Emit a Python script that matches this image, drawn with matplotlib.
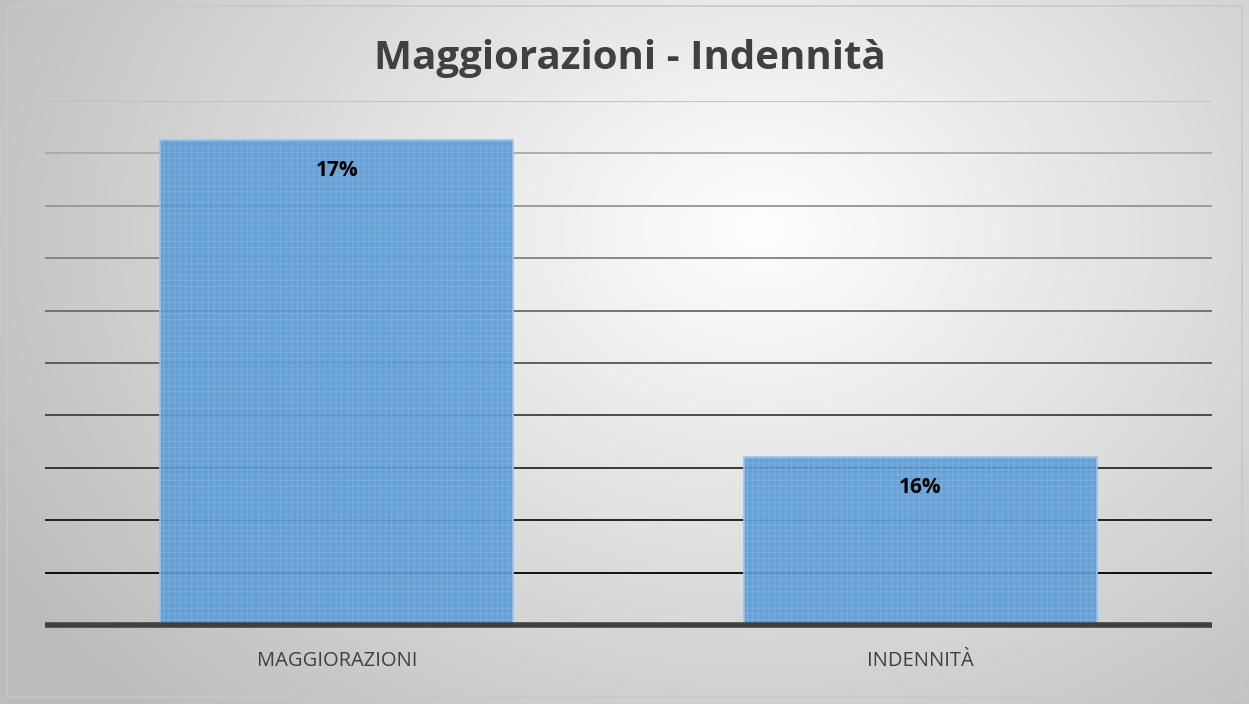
import matplotlib.pyplot as plt
import numpy as np

categories = ['MAGGIORAZIONI', 'INDENNITÀ']
values = [0.1685, 0.1564]
labels = ['17%', '16%']
y_min, y_max, y_step = 0.15, 0.17, 0.002

W, H = 1249, 704
plt.rcParams['hatch.linewidth'] = 0.35
fig = plt.figure(figsize=(W / 100, H / 100), dpi=100)

# radial gradient background, like the Excel chart area
bg = fig.add_axes([0, 0, 1, 1], zorder=0)
yy, xx = np.mgrid[0:H, 0:W]
r = np.sqrt(((xx - 760) / 800.0) ** 2 + ((yy - 230) / 620.0) ** 2)
shade = np.clip(1.0 - 0.24 * r, 0.74, 1.0)
bg.imshow(np.dstack([shade] * 3), extent=[0, W, H, 0], aspect='auto')
bg.add_patch(plt.Rectangle((7, 6), W - 14, H - 13, fill=False,
                           edgecolor='#c8c8c8', linewidth=1.2))
bg.set_xlim(0, W)
bg.set_ylim(H, 0)
bg.axis('off')

ax = fig.add_axes([45 / W, 1 - 625 / H, (1212 - 45) / W, (625 - 101) / H], zorder=1)
ax.patch.set_alpha(0)

# gridlines darken towards the bottom
ticks = np.arange(y_min + y_step, y_max + y_step / 2, y_step)
for i, t in enumerate(ticks[::-1]):
    g = 0.75 * (1 - i / (len(ticks) - 1))
    ax.axhline(t, color=(g, g, g), linewidth=1.3, zorder=1)

x = np.arange(len(categories))
ax.bar(x, [v - y_min for v in values], bottom=y_min, width=0.605,
       color='#5b9bd5', alpha=0.9, edgecolor='#8cb9e3', linewidth=0.0,
       hatch='+++', zorder=2)
ax.bar(x, [v - y_min for v in values], bottom=y_min, width=0.605,
       fill=False, edgecolor='#9cc3e6', linewidth=1.2, zorder=2)

ax.axhline(y_min, color='#404040', linewidth=4, zorder=3, clip_on=False,
           solid_capstyle='butt')

for xi, v, lab in zip(x, values, labels):
    ax.annotate(lab, (xi, v), xytext=(0, -22), textcoords='offset points',
                ha='center', va='center', fontsize=15, fontweight='bold',
                family='Open Sans', color='black', zorder=4)

ax.set_xlim(-0.5, len(categories) - 0.5)
ax.set_ylim(y_min, y_max)
ax.set_xticks(x)
ax.set_xticklabels(categories, fontsize=14.5, family='Open Sans', color='#404040')
ax.tick_params(axis='x', length=0, pad=19)
ax.set_yticks([])
for s in ax.spines.values():
    s.set_visible(False)

fig.text(630 / W, 1 - 58 / H, 'Maggiorazioni - Indennità', ha='center', va='center',
         fontsize=29, fontweight='bold', family='Open Sans', color='#404040')

fig.savefig('out.png', dpi=100)
